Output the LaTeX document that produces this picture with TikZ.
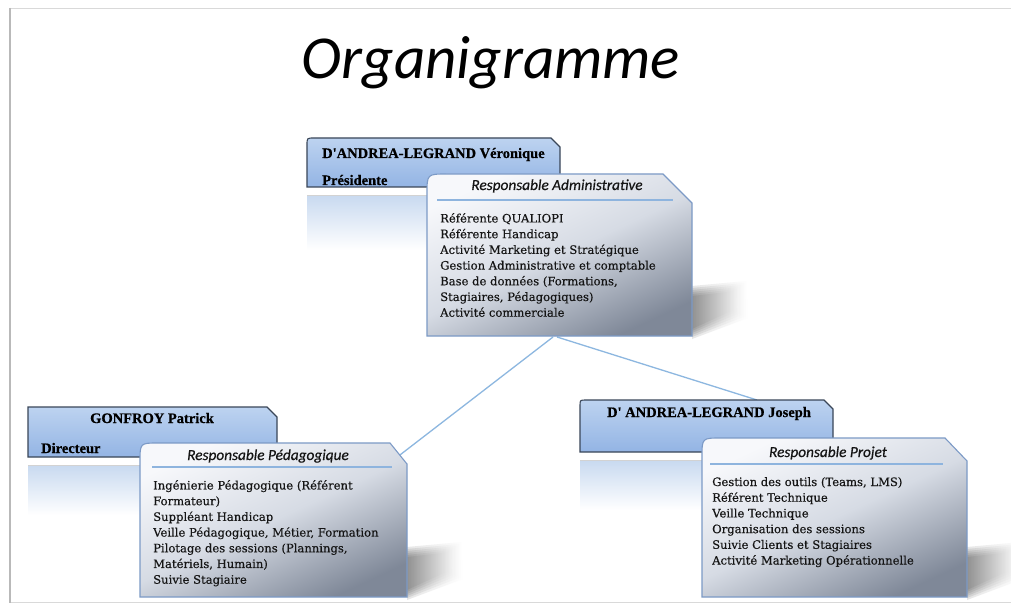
\documentclass[tikz,border=0pt]{standalone}
\usepackage{fontspec}
\setmainfont{DejaVu Serif}
\newfontfamily\bodyfont[FakeBold=0.35]{DejaVu Serif}
\newfontfamily\namefont[FakeBold=0.6]{Liberation Serif}
\newfontfamily\headfont[FakeBold=0.5]{Carlito}
\newfontfamily\titlefont{Carlito}
\definecolor{nametop}{HTML}{BDD3F0}
\definecolor{namebot}{HTML}{93B4E4}
\definecolor{nameborder}{HTML}{3A4658}
\definecolor{resptop}{HTML}{F7F8FB}
\definecolor{respmid}{HTML}{D6DBE4}
\definecolor{respbot}{HTML}{7F8898}
\definecolor{respborder}{HTML}{7C9AC6}
\definecolor{refltop}{HTML}{C9DAF0}
\definecolor{hdrline}{HTML}{8EB4DE}
\definecolor{linkcol}{HTML}{8DB7E0}
\definecolor{bodycol}{HTML}{151515}
\tikzset{
  namebox/.style={draw=nameborder, line width=1.1pt, top color=nametop, bottom color=namebot},
  respbox/.style={draw=respborder, line width=1.1pt, top color=resptop, bottom color=respbot, middle color=respmid, shading angle=25},
  refl/.style={top color=refltop, bottom color=white, draw=none},
  reflline/.style={draw=gray!35, line width=0.8pt},
  shadowlayer/.style={left color=black!75, right color=white, draw=none, opacity=0.13},
  hline/.style={draw=hdrline, line width=1.2pt},
  link/.style={draw=linkcol, line width=1.3pt},
  nametext/.style={font=\namefont\bfseries\fontsize{14.5}{16}\selectfont, inner sep=0},
  headtext/.style={font=\headfont\itshape\fontsize{15.3}{17}\selectfont, text=bodycol, inner sep=0, anchor=base},
  bodytext/.style={font=\bodyfont\fontsize{11.6}{15.7}\selectfont, text=bodycol, align=left, inner sep=0, anchor=north west},
  frameline/.style={draw=gray!30, line width=0.8pt},
}
% soft shadow to the right of a box whose bottom-right corner is (#1,#2)
\newcommand\softshadow[2]{%
  \foreach \d in {0,2,4,6,8,10}{%
    \path[shadowlayer] (#1,#2-50+\d) -- (#1+54-\d,#2-55+\d) -- (#1+56-\d,#2-18-\d) -- (#1,#2+3-\d) -- cycle;
  }%
}
\begin{document}
\begin{tikzpicture}[x=1pt,y=-1pt]
\useasboundingbox (0,0) rectangle (1011,612);
\fill[white] (0,0) rectangle (1011,612);
% page frame
\draw[frameline] (10,8) -- (1011,8);
\draw[frameline] (10,602) -- (1011,602);
\draw[draw=gray!55, line width=1.2pt] (10,8) -- (10,603);

% title
\node[font=\titlefont\itshape\fontsize{61}{63}\selectfont, anchor=base] (title) at (491,79) {Organigramme};

% connector anchor points
\coordinate (admB1) at (553,337);
\coordinate (admB2) at (557,337);
\coordinate (pedT) at (396,458);
\coordinate (josT) at (757,400);
\draw[link] (admB1) -- (pedT);
\draw[link] (admB2) -- (josT);

% ---------- Véronique / Administrative ----------
\path[refl] (307,196) rectangle (560,250);
\draw[reflline] (307,195.5) -- (560,195.5);
\path[namebox] (307,187) -- (307,145) .. controls (307,138) .. (314,138) -- (551,138) -- (560,147) -- (560,187) -- cycle;
\node[nametext, anchor=base west] (vero) at (322,158) {D'ANDREA-LEGRAND Véronique};
\node[nametext, anchor=base west] (pres) at (322,185) {Présidente};

\softshadow{692}{336}
\path[respbox] (427,336) -- (427,194) .. controls (427,174) .. (447,174) -- (663,174) -- (692,203) -- (692,336) -- cycle;
\node[headtext] (admH) at (557,190) {Responsable Administrative};
\draw[hline] (437,200) -- (673,200);
\node[bodytext] (admT) at (440,213) {Référente QUALIOPI\\Référente Handicap\\Activité Marketing et Stratégique\\Gestion Administrative et comptable\\Base de données (Formations,\\Stagiaires, Pédagogiques)\\Activité commerciale};

% ---------- Gonfroy / Pédagogique ----------
\path[refl] (28,466) rectangle (277,515);
\draw[reflline] (28,465.5) -- (277,465.5);
\path[namebox] (28,457) -- (28,407) -- (267,407) -- (277,417) -- (277,457) -- cycle;
\node[nametext, anchor=base] (gon) at (152,423) {GONFROY Patrick};
\node[nametext, anchor=base west] (dir) at (41,453) {Directeur};

\softshadow{407}{597}
\path[respbox] (140,597) -- (140,462) .. controls (140,443) .. (158,443) -- (390,443) -- (407,464) -- (407,597) -- cycle;
\node[headtext] (pedH) at (268,460) {Responsable Pédagogique};
\draw[hline] (152,467) -- (392,467);
\node[bodytext] (pedT2) at (153,480) {Ingénierie Pédagogique (Référent\\Formateur)\\Suppléant Handicap\\Veille Pédagogique, Métier, Formation\\Pilotage des sessions (Plannings,\\Matériels, Humain)\\Suivie Stagiaire};

% ---------- Joseph / Projet ----------
\path[refl] (580,461) rectangle (833,510);
\draw[reflline] (580,460.5) -- (833,460.5);
\path[namebox] (580,452) -- (580,406) .. controls (580,400) .. (586,400) -- (824,400) -- (833,409) -- (833,452) -- cycle;
\node[nametext, anchor=base] (jos) at (709,417) {D' ANDREA-LEGRAND Joseph};

\softshadow{967}{597}
\path[respbox] (702,597) -- (702,457) .. controls (702,438) .. (721,438) -- (945,438) -- (967,461) -- (967,597) -- cycle;
\node[headtext] (proH) at (828,457) {Responsable Projet};
\draw[hline] (710,464) -- (943,464);
\node[bodytext] (proT) at (712,477) {Gestion des outils (Teams, LMS)\\Référent Technique\\Veille Technique\\Organisation des sessions\\Suivie Clients et Stagiaires\\Activité Marketing Opérationnelle};
\end{tikzpicture}
\end{document}
